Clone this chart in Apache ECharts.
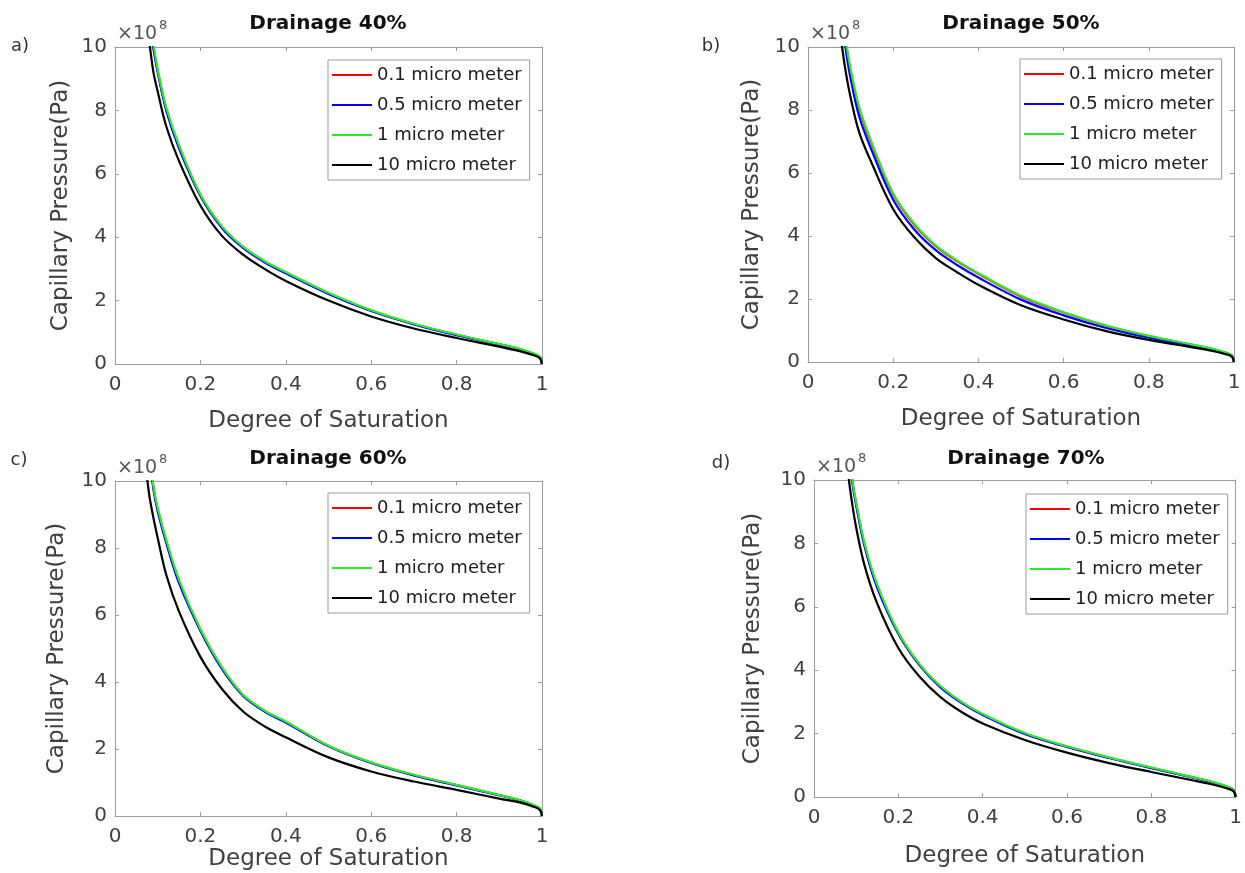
<!DOCTYPE html>
<html>
<head>
<meta charset="utf-8">
<script src="https://cdn.jsdelivr.net/npm/echarts@6/dist/echarts.min.js"></script>
<style>
html,body{margin:0;padding:0;background:#fff;}
#chart{width:1245px;height:873px;}
</style>
</head>
<body>
<div id="chart"></div>
<script>
// ---- data ----
const seriesNames = ['0.1 micro meter', '0.5 micro meter', '1 micro meter', '10 micro meter'];
const panelTitles = ['Drainage 40%', 'Drainage 50%', 'Drainage 60%', 'Drainage 70%'];
const panelLetters = ['a)', 'b)', 'c)', 'd)'];
const xTicks = [0, 0.2, 0.4, 0.6, 0.8, 1];
const yTicks = [0, 2, 4, 6, 8, 10];
// degree of saturation sample points
const satX = [0.07, 0.08, 0.09, 0.1, 0.12, 0.15, 0.2, 0.25, 0.3, 0.35, 0.4, 0.5, 0.6, 0.7, 0.8, 0.9, 0.95, 0.98, 0.995, 1.0];

// capillary pressure (x1e8 Pa)
// Drainage 40%
const a_red   = [12.4, 11.1, 10.0, 9.25, 8.05, 6.85, 5.32, 4.33, 3.68, 3.23, 2.88, 2.23, 1.68, 1.26, 0.92, 0.62, 0.46, 0.32, 0.22, 0.0];
const a_blue  = [12.3, 11.0, 9.95, 9.2, 8.0, 6.8, 5.3, 4.3, 3.66, 3.21, 2.86, 2.21, 1.67, 1.25, 0.91, 0.62, 0.46, 0.32, 0.22, 0.0];
const a_green = [12.5, 11.2, 10.1, 9.3, 8.1, 6.9, 5.35, 4.35, 3.7, 3.25, 2.9, 2.25, 1.7, 1.27, 0.93, 0.63, 0.47, 0.33, 0.23, 0.0];
const a_black = [11.3, 10.2, 9.2, 8.6, 7.5, 6.4, 5.0, 4.05, 3.45, 3.0, 2.62, 2.0, 1.5, 1.12, 0.82, 0.55, 0.4, 0.28, 0.18, 0.0];
// Drainage 50%
const b_red   = [12.3, 11.1, 10.0, 9.25, 8.05, 6.9, 5.32, 4.35, 3.68, 3.2, 2.8, 2.08, 1.57, 1.15, 0.82, 0.55, 0.41, 0.3, 0.21, 0.0];
const b_blue  = [12.0, 10.8, 9.8, 9.0, 7.8, 6.7, 5.15, 4.2, 3.55, 3.08, 2.68, 1.98, 1.48, 1.08, 0.77, 0.52, 0.39, 0.28, 0.2, 0.0];
const b_green = [12.4, 11.2, 10.1, 9.3, 8.1, 6.95, 5.35, 4.38, 3.7, 3.22, 2.82, 2.1, 1.58, 1.16, 0.83, 0.56, 0.42, 0.3, 0.21, 0.0];
const b_black = [11.2, 10.0, 9.1, 8.4, 7.3, 6.3, 4.85, 3.95, 3.3, 2.85, 2.45, 1.8, 1.35, 0.98, 0.7, 0.47, 0.35, 0.25, 0.17, 0.0];
// Drainage 60%
const c_red   = [12.4, 10.95, 9.8, 9.15, 8.2, 7.0, 5.55, 4.42, 3.6, 3.13, 2.8, 2.09, 1.59, 1.22, 0.92, 0.62, 0.46, 0.32, 0.22, 0.0];
const c_blue  = [12.3, 10.9, 9.75, 9.1, 8.15, 6.95, 5.53, 4.4, 3.59, 3.12, 2.79, 2.08, 1.58, 1.21, 0.91, 0.62, 0.46, 0.32, 0.22, 0.0];
const c_green = [12.5, 11.0, 9.85, 9.2, 8.25, 7.05, 5.58, 4.45, 3.62, 3.15, 2.82, 2.1, 1.6, 1.23, 0.93, 0.63, 0.47, 0.33, 0.23, 0.0];
const c_black = [10.7, 9.6, 8.9, 8.3, 7.2, 6.1, 4.75, 3.8, 3.12, 2.68, 2.35, 1.75, 1.33, 1.03, 0.78, 0.52, 0.4, 0.28, 0.18, 0.0];
// Drainage 70%
const d_red   = [12.7, 11.2, 10.05, 9.25, 7.95, 6.65, 5.17, 4.18, 3.48, 2.98, 2.6, 2.0, 1.59, 1.24, 0.92, 0.61, 0.45, 0.32, 0.22, 0.0];
const d_blue  = [12.6, 11.1, 10.0, 9.2, 7.9, 6.6, 5.15, 4.16, 3.46, 2.97, 2.59, 1.99, 1.58, 1.23, 0.91, 0.61, 0.45, 0.32, 0.22, 0.0];
const d_green = [12.8, 11.3, 10.1, 9.3, 8.0, 6.7, 5.2, 4.2, 3.5, 3.0, 2.62, 2.02, 1.6, 1.25, 0.93, 0.62, 0.46, 0.33, 0.23, 0.0];
const d_black = [11.6, 10.3, 9.3, 8.5, 7.3, 6.1, 4.7, 3.8, 3.15, 2.68, 2.32, 1.8, 1.4, 1.07, 0.79, 0.52, 0.38, 0.27, 0.18, 0.0];

const panelData = [
  [a_red, a_blue, a_green, a_black],
  [b_red, b_blue, b_green, b_black],
  [c_red, c_blue, c_green, c_black],
  [d_red, d_blue, d_green, d_black]
];

// ---- layout / style ----
const colors = ['#ff0000', '#0000ff', '#2ee82e', '#000000'];
const FONT = 'DejaVu Sans';
const axisGray = '#9c9c9c';
const textGray = '#404040';
// [left, top, width, height]
const grids = [
  [115, 47, 427, 317],
  [808, 47, 426, 315],
  [115, 481, 427, 335],
  [814, 480, 424, 317]
];
const xNameGap = [46, 46, 30, 48];
const yNameGap = [42, 44, 46, 49];
const legendPos = [[328, 60], [1020, 59], [328, 493], [1026, 494]];
const titlePos = [[328, 24], [1021, 24], [328, 459], [1026, 459]];
const letterPos = [[20, 46], [711, 46], [19, 460], [721, 463]];

const option = {
  animation: false,
  backgroundColor: '#ffffff',
  grid: [], xAxis: [], yAxis: [], series: [], legend: [], graphic: []
};

grids.forEach((g, i) => {
  option.grid.push({left: g[0], top: g[1], width: g[2], height: g[3], containLabel: false});
  const axisCommonX = {
    type: 'value', gridIndex: i, min: xTicks[0], max: xTicks[xTicks.length - 1], interval: 0.2,
    splitLine: {show: false},
    axisLine: {show: true, lineStyle: {color: axisGray, width: 1}},
    axisTick: {show: true, inside: true, length: 4, lineStyle: {color: axisGray}}
  };
  const axisCommonY = {
    type: 'value', gridIndex: i, min: yTicks[0], max: yTicks[yTicks.length - 1], interval: 2,
    splitLine: {show: false},
    axisLine: {show: true, lineStyle: {color: axisGray, width: 1}},
    axisTick: {show: true, inside: true, length: 4, lineStyle: {color: axisGray}}
  };
  option.xAxis.push(Object.assign({}, axisCommonX, {
    position: 'bottom',
    axisLabel: {color: textGray, fontSize: 20, fontFamily: FONT, margin: 11},
    name: 'Degree of Saturation', nameLocation: 'middle', nameGap: xNameGap[i],
    nameTextStyle: {color: textGray, fontSize: 23, fontFamily: FONT}
  }));
  option.yAxis.push(Object.assign({}, axisCommonY, {
    position: 'left',
    axisLabel: {color: textGray, fontSize: 20, fontFamily: FONT, margin: 8},
    name: 'Capillary Pressure(Pa)', nameLocation: 'middle', nameGap: yNameGap[i],
    nameTextStyle: {color: textGray, fontSize: 23, fontFamily: FONT}
  }));
});
// mirror axes (box)
grids.forEach((g, i) => {
  option.xAxis.push({
    type: 'value', gridIndex: i, min: 0, max: 1, interval: 0.2, position: 'top',
    splitLine: {show: false}, axisLabel: {show: false},
    axisLine: {show: true, onZero: false, lineStyle: {color: axisGray, width: 1}},
    axisTick: {show: true, inside: true, length: 4, lineStyle: {color: axisGray}}
  });
  option.yAxis.push({
    type: 'value', gridIndex: i, min: 0, max: 10, interval: 2, position: 'right',
    splitLine: {show: false}, axisLabel: {show: false},
    axisLine: {show: true, onZero: false, lineStyle: {color: axisGray, width: 1}},
    axisTick: {show: true, inside: true, length: 4, lineStyle: {color: axisGray}}
  });
});

panelData.forEach((arrs, i) => {
  arrs.forEach((arr, k) => {
    option.series.push({
      name: seriesNames[k], type: 'line', xAxisIndex: i, yAxisIndex: i,
      data: satX.map((x, j) => [x, arr[j]]),
      showSymbol: false, symbol: 'none', smooth: 0.35, clip: true,
      lineStyle: {color: colors[k], width: 2.2}, itemStyle: {color: colors[k]},
      z: 2 + k
    });
  });
  option.legend.push({
    data: seriesNames.map((n, k) => ({name: n, itemStyle: {color: colors[k]}})),
    left: legendPos[i][0], top: legendPos[i][1], orient: 'vertical',
    icon: 'rect', itemWidth: 40, itemHeight: 2, itemGap: 10,
    padding: [5, 8, 5, 4],
    borderColor: '#9a9a9a', borderWidth: 1, backgroundColor: '#ffffff',
    selectedMode: false,
    textStyle: {color: '#202020', fontSize: 18, fontFamily: FONT, lineHeight: 20}
  });
});

// free text (titles, letters, exponent)
panelTitles.forEach((t, i) => {
  option.graphic.push({
    type: 'text', x: titlePos[i][0], y: titlePos[i][1],
    style: {text: t, fontSize: 20, fontWeight: 'bold', fontFamily: FONT, fill: '#111',
            align: 'center', verticalAlign: 'middle'}
  });
  option.graphic.push({
    type: 'text', x: letterPos[i][0], y: letterPos[i][1],
    style: {text: panelLetters[i], fontSize: 18, fontFamily: FONT, fill: '#333',
            align: 'center', verticalAlign: 'middle'}
  });
  const g = grids[i];
  option.graphic.push({
    type: 'text', x: g[0] + 2, y: g[1] - 13,
    style: {text: '\u00d710', fontSize: 19, fontFamily: FONT, fill: '#555',
            align: 'left', verticalAlign: 'middle'}
  });
  option.graphic.push({
    type: 'text', x: g[0] + 44, y: g[1] - 21,
    style: {text: '8', fontSize: 13, fontFamily: FONT, fill: '#555',
            align: 'left', verticalAlign: 'middle'}
  });
});

const chart = echarts.init(document.getElementById('chart'), null, {renderer: 'canvas'});
chart.setOption(option);
</script>
</body>
</html>
